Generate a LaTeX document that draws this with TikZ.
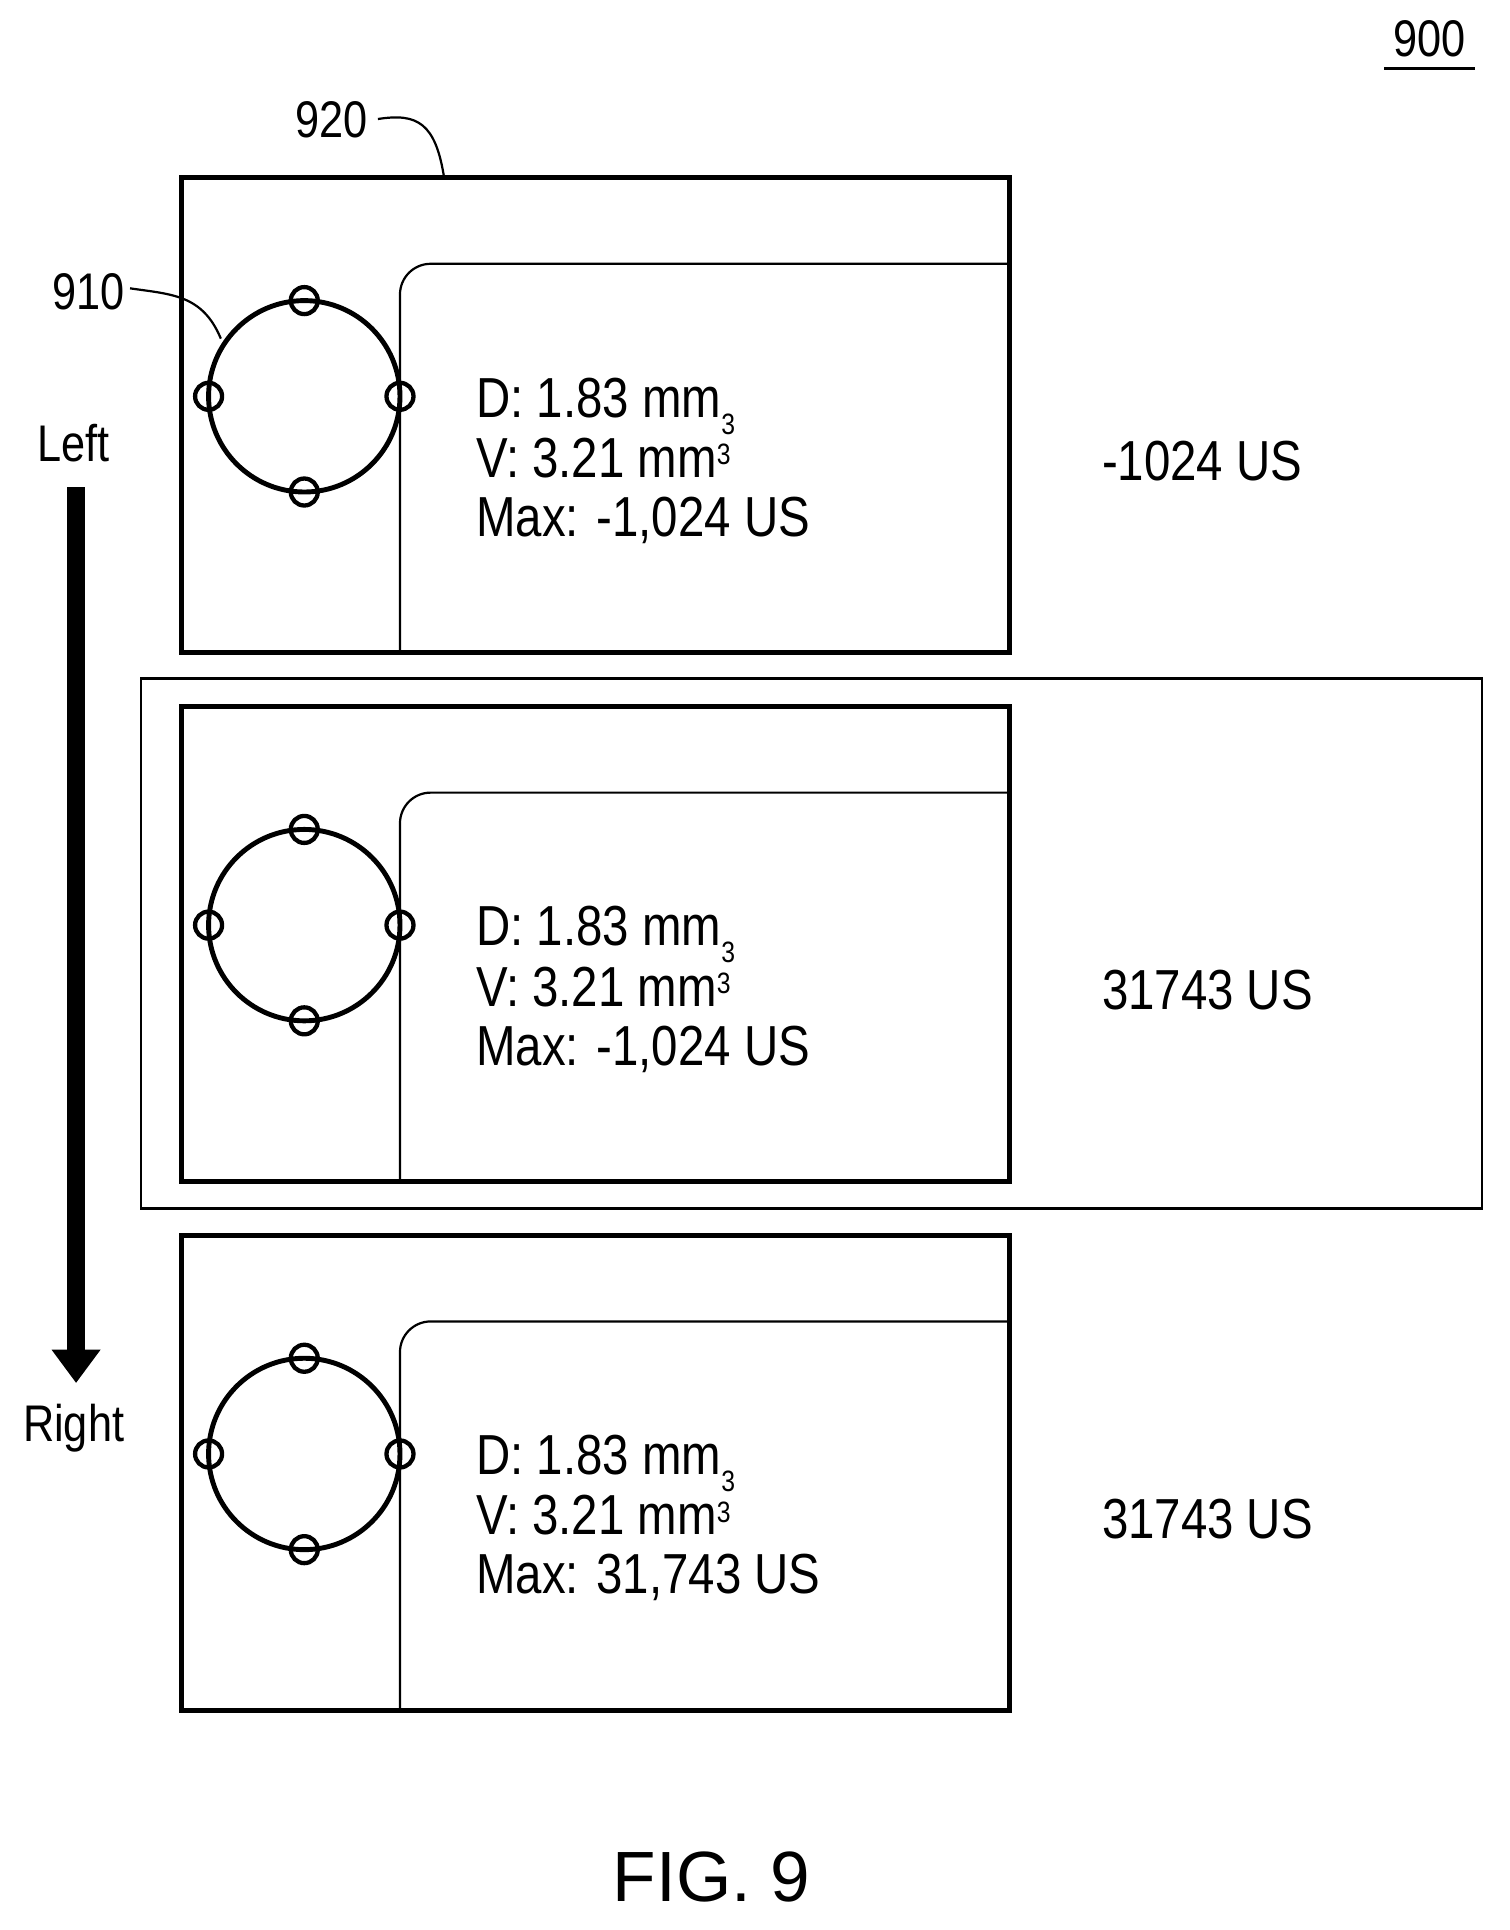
\documentclass[tikz,border=0pt]{standalone}
\usepackage{fontspec}
\setmainfont{Liberation Sans}
\begin{document}
\begin{tikzpicture}[x=1pt,y=-1pt,
  txt/.style={font=\fontsize{46}{50}\selectfont, xscale=0.84, inner sep=0pt},
  lbl/.style={font=\fontsize{42}{46}\selectfont, xscale=0.84, inner sep=0pt},
  frame/.style={draw, line width=4pt},
  thin/.style={draw, line width=1.8pt},
  ring/.style={draw, line width=4pt}]
\useasboundingbox (0,0) rectangle (1230,1573);
\node[lbl, anchor=base] (n900) at (1165,46) {900};
\draw[line width=2.5pt] (1128,56) -- (1202,56);
\foreach \i/\dy/\r/\m in {1/0/-1024 US/{-1,024 US},2/431/31743 US/{-1,024 US},3/862/31743 US/{31,743 US}}{
  \begin{scope}[yshift=-\dy pt]
  \node[frame, minimum width=675pt, minimum height=387pt, inner sep=0pt] (box\i) at (485.5,338.5) {};
  \draw[thin, rounded corners=25pt] (326,532) -- (326,215) -- (823,215);
  \draw[ring] (248,323) circle[radius=78];
  \foreach \p in {(248,245),(248,401),(170,323),(326,323)} \draw[line width=3.5pt] \p circle[radius=11];
  \node[txt, anchor=base west] (d\i) at (388,340) {D: 1.83 mm\raisebox{-0.3em}{\fontsize{24}{26}\selectfont 3}};
  \node[txt, anchor=base west] (v\i) at (388,389) {V: 3.21 mm\raisebox{0.22em}{\fontsize{24}{26}\selectfont 3}};
  \node[txt, anchor=base west] (m\i) at (388,437) {Max: \m};
  \node[txt, anchor=base west] (r\i) at (898,392) {\r};
  \end{scope}}
\draw[thin] (115,553) rectangle (1208,985);
\node[lbl, anchor=base] (left) at (60,376) {Left};
\node[lbl, anchor=base] (right) at (60,1175) {Right};
\coordinate (a1) at (62,397);
\coordinate (a2) at (62,1127);
\draw[line width=15pt] (a1) -- (62,1100);
\fill (42,1100) -- (82,1100) -- (a2) -- cycle;
\node[lbl, anchor=base east] (n920) at (300,112) {920};
\draw[line width=1.8pt] (308,97) .. controls (340,92) and (355,100) .. (362,145);
\node[lbl, anchor=base east] (n910) at (102,252) {910};
\draw[line width=1.8pt] (106,235) .. controls (140,240) and (165,240) .. (180,276);
\node[font=\fontsize{58}{62}\selectfont, anchor=base, inner sep=0pt] (fig) at (580,1550) {FIG. 9};
\end{tikzpicture}
\end{document}
